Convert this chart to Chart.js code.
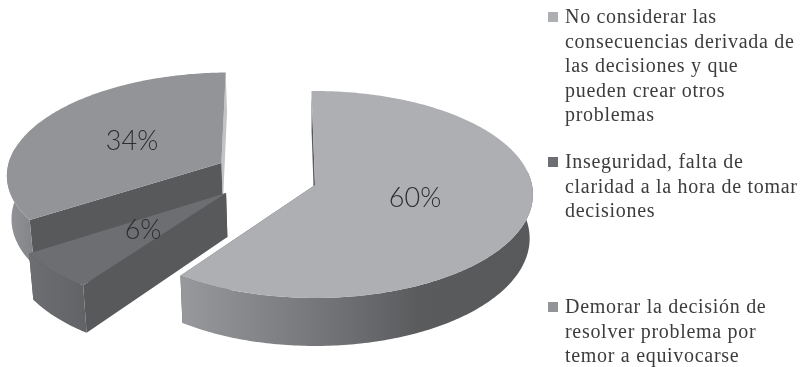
<!DOCTYPE html>
<html>
<head>
<meta charset="utf-8">
<title>Pie</title>
<script src="https://cdn.jsdelivr.net/npm/chart.js@4/dist/chart.umd.min.js"></script>
<style>
  html, body { margin: 0; background: #fff; }
  canvas { display: block; }
</style>
</head>
<body>
<canvas id="pieChart" width="802" height="367"></canvas>
<script>
const categories = [
  'No considerar las consecuencias derivada de las decisiones y que pueden crear otros problemas',
  'Inseguridad, falta de claridad a la hora de tomar decisiones',
  'Demorar la decisión de resolver problema por temor a equivocarse'
];
const values = [60, 6, 34];
const legendLines = [
  ['No considerar las', 'consecuencias derivada de', 'las decisiones y que', 'pueden crear otros', 'problemas'],
  ['Inseguridad, falta de', 'claridad a la hora de tomar', 'decisiones'],
  ['Demorar la decisión de', 'resolver problema por', 'temor a equivocarse']
];

const topColors = ['#aeafb2', '#6d6e71', '#929497'];
const legendColors = ['#aeafb2', '#6d6e71', '#929497'];
// caras de corte de cada porción: inicio y fin del arco
const radialColors = [['#58595b', '#58595b'], ['#58595b', '#58595b'], ['#58595b', '#c2c3c5']];
// colores del borde exterior, de izquierda a derecha
const wallStops = [
  [[184, '#97989b'], [330, '#727376'], [420, '#5a5b5d'], [530, '#58595b']],
  [[30, '#6d6e71'], [85, '#626366']],
  [[7, '#929497'], [40, '#7f8083']]
];

// separación de cada porción, en unidades del radio
const explode = [[0, 0], [-0.407, 0.078], [-0.44, -0.219]];
const labelPos = [[415, 198], [143, 230], [132, 141]];
const legendY = [23, 168, 313];
const lineStep = 24.6;

// proyección en perspectiva del plano de la torta
const cx = 315, cy = 185, rx = 217, ry = 102.6, tilt = 0.0917;
const depth = 43.6, shrink = 0.985;

function project(u, v, low) {
  const s = 1 / (1 - tilt * v);
  let x = cx + rx * u * s;
  let y = cy + ry * v * s;
  if (low) {
    x = cx + (x - cx) * shrink;
    y += depth * s;
  }
  return [x, y];
}

// frontOnly deja solo el tramo del arco que mira hacia adelante
function arcPoints(arc, off, low, frontOnly) {
  const pts = [];
  const steps = Math.max(2, Math.ceil((arc.endAngle - arc.startAngle) / 0.015));
  for (let i = 0; i <= steps; i++) {
    const a = arc.startAngle + (arc.endAngle - arc.startAngle) * i / steps;
    if (frontOnly && Math.sin(a) < -0.15) continue;
    pts.push(project(off[0] + Math.cos(a), off[1] + Math.sin(a), low));
  }
  return pts;
}

function fillPoly(ctx, pts, fill) {
  ctx.beginPath();
  pts.forEach((p, i) => i ? ctx.lineTo(p[0], p[1]) : ctx.moveTo(p[0], p[1]));
  ctx.closePath();
  ctx.fillStyle = fill;
  ctx.fill();
}

const pie3d = {
  id: 'pie3d',
  // reemplaza el dibujo plano de los arcos por la versión con volumen
  beforeDatasetDraw(chart) {
    const ctx = chart.ctx;
    const arcs = chart.getDatasetMeta(0).data;
    [2, 1, 0].forEach(i => {
      const arc = arcs[i];
      const off = explode[i];
      const top = arcPoints(arc, off, false);
      const low = arcPoints(arc, off, true);
      const apexTop = project(off[0], off[1], false);
      const apexLow = project(off[0], off[1], true);
      const last = top.length - 1;

      fillPoly(ctx, [apexTop, top[last], low[last], apexLow], radialColors[i][1]);
      fillPoly(ctx, [apexTop, top[0], low[0], apexLow], radialColors[i][0]);

      const grad = ctx.createLinearGradient(wallStops[i][0][0], 0, wallStops[i][wallStops[i].length - 1][0], 0);
      const x0 = wallStops[i][0][0];
      const span = wallStops[i][wallStops[i].length - 1][0] - x0;
      wallStops[i].forEach(st => grad.addColorStop((st[0] - x0) / span, st[1]));
      const wallTop = arcPoints(arc, off, false, true);
      const wallLow = arcPoints(arc, off, true, true);
      fillPoly(ctx, wallTop.concat(wallLow.reverse()), grad);

      fillPoly(ctx, [apexTop].concat(top), arc.options.backgroundColor);
    });
    return false;
  },
  afterDraw(chart) {
    const ctx = chart.ctx;

    // porcentajes sobre cada porción
    ctx.font = '300 27px Lato';
    ctx.fillStyle = '#2e2e30';
    ctx.textAlign = 'center';
    ctx.textBaseline = 'middle';
    values.forEach((v, i) => ctx.fillText(v + '%', labelPos[i][0], labelPos[i][1]));

    // leyenda a la derecha
    ctx.textAlign = 'left';
    ctx.textBaseline = 'alphabetic';
    ctx.font = '20px "Liberation Serif"';
    ctx.letterSpacing = '0.7px';
    legendLines.forEach((lines, i) => {
      ctx.fillStyle = legendColors[i];
      ctx.fillRect(548, legendY[i] - 11, 10, 10);
      ctx.fillStyle = '#3c3c3e';
      lines.forEach((line, j) => ctx.fillText(line, 565, legendY[i] + j * lineStep));
    });
    ctx.letterSpacing = '0px';
  }
};

new Chart(document.getElementById('pieChart'), {
  type: 'pie',
  data: {
    labels: categories,
    datasets: [{ data: values, backgroundColor: topColors, borderWidth: 0 }]
  },
  options: {
    responsive: false,
    animation: false,
    rotation: -1,
    plugins: { legend: { display: false }, tooltip: { enabled: false } }
  },
  plugins: [pie3d]
});
</script>
</body>
</html>
